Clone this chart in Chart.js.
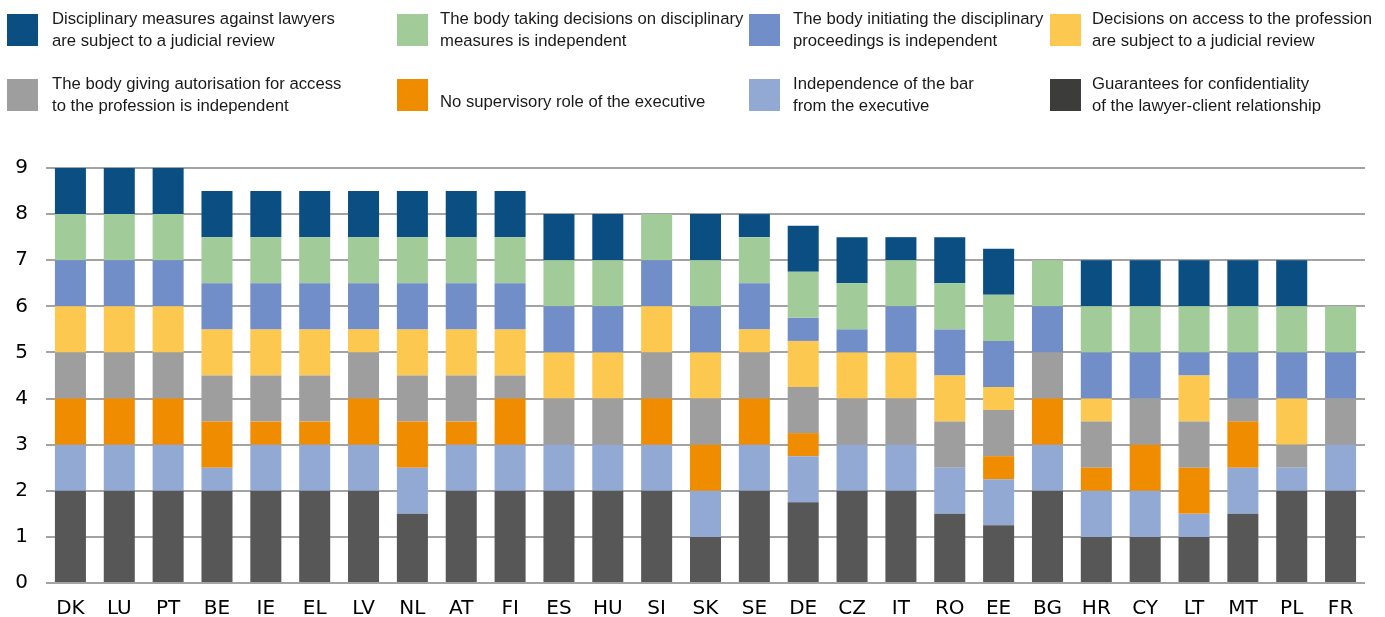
<!DOCTYPE html>
<html>
<head>
<meta charset="utf-8">
<script src="https://cdn.jsdelivr.net/npm/chart.js@4/dist/chart.umd.min.js"></script>
<style>
  html, body { margin: 0; padding: 0; background: #fff; }
  #wrap { position: relative; width: 1385px; height: 617px; overflow: hidden; }
  #chart { position: absolute; left: 0; top: 0; }
  .key { position: absolute; font-family: "Liberation Sans", Arial, sans-serif; font-size: 16.7px; line-height: 22px; color: #1a1a1a; white-space: nowrap; }
  .sw { position: absolute; width: 31px; height: 32px; }
</style>
</head>
<body>
<div id="wrap">
  <canvas id="chart" width="1385" height="617"></canvas>
  <div id="legend"></div>
</div>
<script>
// Member states, ordered by total score
const categories = ['DK','LU','PT','BE','IE','EL','LV','NL','AT','FI','ES','HU','SI','SK','SE','DE','CZ','IT','RO','EE','BG','HR','CY','LT','MT','PL','FR'];

// Scores per safeguard (stacked from the bottom up)
const confidentiality     = [2,2,2,2,2,2,2,1.5,2,2,2,2,2,1,2,1.75,2,2,1.5,1.25,2,1,1,1,1.5,2,2];
const barIndependence     = [1,1,1,0.5,1,1,1,1,1,1,1,1,1,1,1,1,1,1,1,1,1,1,1,0.5,1,0.5,1];
const noSupervisoryRole   = [1,1,1,1,0.5,0.5,1,1,0.5,1,0,0,1,1,1,0.5,0,0,0,0.5,1,0.5,1,1,1,0,0];
const authorisationBody   = [1,1,1,1,1,1,1,1,1,0.5,1,1,1,1,1,1,1,1,1,1,1,1,1,1,0.5,0.5,1];
const accessReview        = [1,1,1,1,1,1,0.5,1,1,1,1,1,1,1,0.5,1,1,1,1,0.5,0,0.5,0,1,0,1,0];
const initiatingBody      = [1,1,1,1,1,1,1,1,1,1,1,1,1,1,1,0.5,0.5,1,1,1,1,1,1,0.5,1,1,1];
const decidingBody        = [1,1,1,1,1,1,1,1,1,1,1,1,1,1,1,1,1,1,1,1,1,1,1,1,1,1,1];
const disciplinaryReview  = [1,1,1,1,1,1,1,1,1,1,1,1,0,1,0.5,1,1,0.5,1,1,0,1,1,1,1,1,0];

const yTicks = [0,1,2,3,4,5,6,7,8,9];

const series = [
  { label: ['Guarantees for confidentiality', 'of the lawyer-client relationship'], data: confidentiality, color: '#575757', key: '#3c3c3b' },
  { label: ['Independence of the bar', 'from the executive'], data: barIndependence, color: '#91a9d3', key: '#91a9d3' },
  { label: ['', 'No supervisory role of the executive'], data: noSupervisoryRole, color: '#f08c00', key: '#f08c00' },
  { label: ['The body giving autorisation for access', 'to the profession is independent'], data: authorisationBody, color: '#9d9e9d', key: '#9d9e9d' },
  { label: ['Decisions on access to the profession', 'are subject to a judicial review'], data: accessReview, color: '#fcc84f', key: '#fcc84f' },
  { label: ['The body initiating the disciplinary', 'proceedings is independent'], data: initiatingBody, color: '#718ec8', key: '#718ec8' },
  { label: ['The body taking decisions on disciplinary', 'measures is independent'], data: decidingBody, color: '#a1cc99', key: '#a1cc99' },
  { label: ['Disciplinary measures against lawyers', 'are subject to a judicial review'], data: disciplinaryReview, color: '#0a4e82', key: '#0a4e82' }
];

// Legend: 4 columns x 2 rows, read left to right
const legendOrder = [7, 6, 5, 4, 3, 2, 1, 0];
const colSwatchX = [7, 397, 749, 1050];
const colTextX = [52, 440, 793, 1092];
const rowSwatchY = [14, 79];
const rowTextY = [8, 73];
const legend = document.getElementById('legend');
legendOrder.forEach((si, i) => {
  const s = series[si];
  const col = i % 4, row = Math.floor(i / 4);
  const sw = document.createElement('div');
  sw.className = 'sw';
  sw.style.left = colSwatchX[col] + 'px';
  sw.style.top = rowSwatchY[row] + 'px';
  sw.style.background = s.key;
  legend.appendChild(sw);
  const t = document.createElement('div');
  t.className = 'key';
  t.style.left = colTextX[col] + 'px';
  if (s.label[0] === '') {
    t.style.top = (rowTextY[row] + 18) + 'px';
    t.textContent = s.label[1];
  } else {
    t.style.top = rowTextY[row] + 'px';
    t.innerHTML = s.label.join('<br>');
  }
  legend.appendChild(t);
});

new Chart(document.getElementById('chart'), {
  type: 'bar',
  data: {
    labels: categories,
    datasets: series.map(s => ({
      label: s.label.filter(Boolean).join(' '),
      data: s.data,
      backgroundColor: s.color,
      borderWidth: 0,
      categoryPercentage: 0.635,
      barPercentage: 1
    }))
  },
  options: {
    responsive: false,
    animation: false,
    devicePixelRatio: 1,
    layout: { padding: { top: 168, left: 15, right: 20, bottom: 0 } },
    plugins: { legend: { display: false }, tooltip: { enabled: false } },
    scales: {
      x: {
        stacked: true,
        grid: { display: false, drawTicks: false },
        border: { display: false },
        ticks: { color: '#000', padding: 14, font: { family: 'DejaVu Sans', size: 20 }, maxRotation: 0, autoSkip: false },
        afterFit: axis => { axis.height = 34; }
      },
      y: {
        stacked: true,
        min: 0,
        max: 9,
        afterBuildTicks: axis => { axis.ticks = yTicks.map(v => ({ value: v })); },
        grid: { color: '#a3a3a3', lineWidth: 2, drawTicks: false },
        border: { display: false },
        ticks: { color: '#000', padding: 18, font: { family: 'DejaVu Sans', size: 20 } },
        afterFit: axis => { axis.width = 31; }
      }
    }
  }
});
</script>
</body>
</html>
